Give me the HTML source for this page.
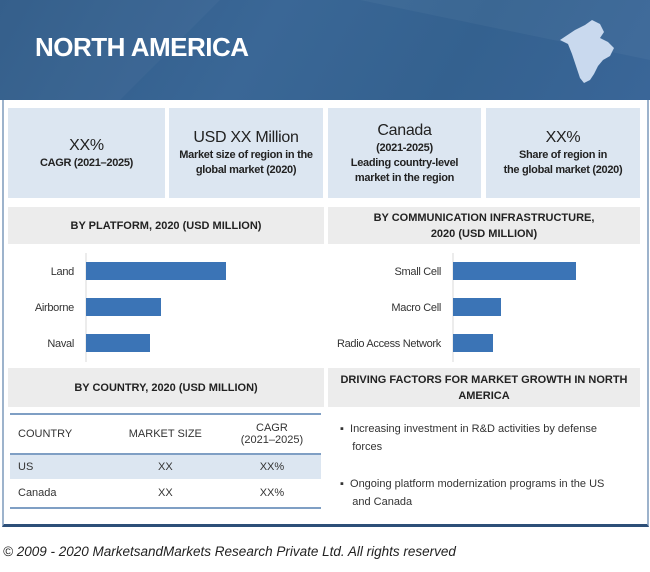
<!DOCTYPE html>
<html><head><meta charset="utf-8"><style>
*{margin:0;padding:0;box-sizing:border-box}
body{width:650px;height:572px;background:#fff;font-family:"Liberation Sans",sans-serif;position:relative;overflow:hidden;color:#222}
.abs{position:absolute}
.stat{position:absolute;top:108px;height:90px;background:#dce6f1;text-align:center;display:flex;flex-direction:column;justify-content:center;font-size:11px;font-weight:bold;letter-spacing:-0.3px;line-height:15px;color:#222}
.stat .big{font-size:16px;font-weight:normal;line-height:20px}
.hdr{position:absolute;background:#ececec;text-align:center;font-size:11px;font-weight:bold;display:flex;flex-direction:column;justify-content:center;line-height:16px;color:#222}
.lbl{font-size:11px;fill:#333;letter-spacing:-0.3px}
td{font-size:11px;color:#333}
</style></head><body>
<div class="abs" style="left:2px;top:0;width:647px;height:527px;border:2px solid #9db3cc;border-bottom:3px solid #2d4f78"></div>
<div class="abs" style="left:0;top:0;width:650px;height:100px;background:linear-gradient(120deg,#2f5a88 0%,#3a6796 40%,#34618f 70%,#3a6698 100%)">
<svg width="650" height="100" style="position:absolute;left:0;top:0"><polygon points="0,0 220,0 120,100 0,100" fill="#ffffff" opacity="0.03"/><polygon points="360,0 650,0 650,60" fill="#ffffff" opacity="0.04"/>
<path d="M575,30 L585,25 L592,20 L600,24 L604,32 L600,38 L608,42 L614,48 L610,56 L603,60 L598,66 L594,74 L590,80 L584,83 L580,78 L576,66 L572,54 L568,44 L560,40 Z" fill="#c9d9ee"/></svg>
<div class="abs" style="left:35px;top:32px;color:#fff;font-size:26px;font-weight:bold;letter-spacing:-0.5px">NORTH AMERICA</div>
</div>
<div class="stat" style="left:8px;width:157px"><div class="big">XX%</div><div>CAGR (2021–2025)</div></div>
<div class="stat" style="left:169px;width:154px"><div class="big">USD XX Million</div><div>Market size of region in the<br>global market (2020)</div></div>
<div class="stat" style="left:328px;width:153px"><div class="big">Canada</div><div>(2021-2025)<br>Leading country-level<br>market in the region</div></div>
<div class="stat" style="left:486px;width:154px"><div class="big">XX%</div><div>Share of region in<br>the global market (2020)</div></div>
<div class="hdr" style="left:8px;top:207px;width:316px;height:37px">BY PLATFORM, 2020 (USD MILLION)</div>
<div class="hdr" style="left:328px;top:207px;width:312px;height:37px">BY COMMUNICATION INFRASTRUCTURE,<br>2020 (USD MILLION)</div>
<svg id="charts" class="abs" style="left:0;top:0" width="650" height="380"></svg>
<div class="hdr" style="left:8px;top:368px;width:316px;height:39px">BY COUNTRY, 2020 (USD MILLION)</div>
<div class="hdr" style="left:328px;top:368px;width:312px;height:39px">DRIVING FACTORS FOR MARKET GROWTH IN NORTH<br>AMERICA</div>
<table class="abs" style="left:10px;top:413px;width:311px;border-collapse:collapse;border-top:2px solid #7f9fc4;border-bottom:2px solid #7f9fc4">
<tr style="height:40px;border-bottom:2px solid #7f9fc4"><td style="padding-left:8px">COUNTRY</td><td style="text-align:center">MARKET SIZE</td><td style="text-align:center">CAGR<br>(2021–2025)</td></tr>
<tr style="height:25px;background:#dce6f1"><td style="padding-left:8px">US</td><td style="text-align:center">XX</td><td style="text-align:center">XX%</td></tr>
<tr style="height:29px"><td style="padding-left:8px">Canada</td><td style="text-align:center">XX</td><td style="text-align:center">XX%</td></tr>
</table>
<div class="abs" style="left:340px;top:420px;width:290px;font-size:11px;line-height:18px;color:#333">▪&nbsp; Increasing investment in R&amp;D activities by defense<br>&nbsp;&nbsp;&nbsp; forces</div>
<div class="abs" style="left:340px;top:475px;width:290px;font-size:11px;line-height:18px;color:#333">▪&nbsp; Ongoing platform modernization programs in the US<br>&nbsp;&nbsp;&nbsp; and Canada</div>
<div class="abs" style="left:3px;top:544px;font-size:13.5px;font-style:italic;color:#222">© 2009 - 2020 MarketsandMarkets Research Private Ltd. All rights reserved</div>
<script>
const platformCats=["Land","Airborne","Naval"];
const platformVals=[14,7.5,6.4];
const infraCats=["Small Cell","Macro Cell","Radio Access Network"];
const infraVals=[12.3,4.8,4.0];
const svg=document.getElementById('charts');
const NS="http://www.w3.org/2000/svg";
function drawChart(cats,vals,x0,name){
  const xs=v=>v*10;
  const ys=i=>262+i*36;
  const ax=document.createElementNS(NS,'line');
  ax.setAttribute('x1',x0);ax.setAttribute('x2',x0);ax.setAttribute('y1',253);ax.setAttribute('y2',362);
  ax.setAttribute('stroke','#d9d9d9');
  
  
  svg.appendChild(ax);
  cats.forEach((c,i)=>{
    const r=document.createElementNS(NS,'rect');
    r.setAttribute('x',x0);r.setAttribute('y',ys(i));r.setAttribute('width',xs(vals[i]));r.setAttribute('height',18);r.setAttribute('fill','#3b74b6');
    
    
    svg.appendChild(r);
    const t=document.createElementNS(NS,'text');
    t.setAttribute('x',x0-12);t.setAttribute('y',ys(i)+13);t.setAttribute('text-anchor','end');t.setAttribute('class','lbl');
    t.textContent=c;
    
    
    svg.appendChild(t);
  });
}
drawChart(platformCats,platformVals,86,'platform');
drawChart(infraCats,infraVals,453,'infrastructure');
</script>
</body></html>
